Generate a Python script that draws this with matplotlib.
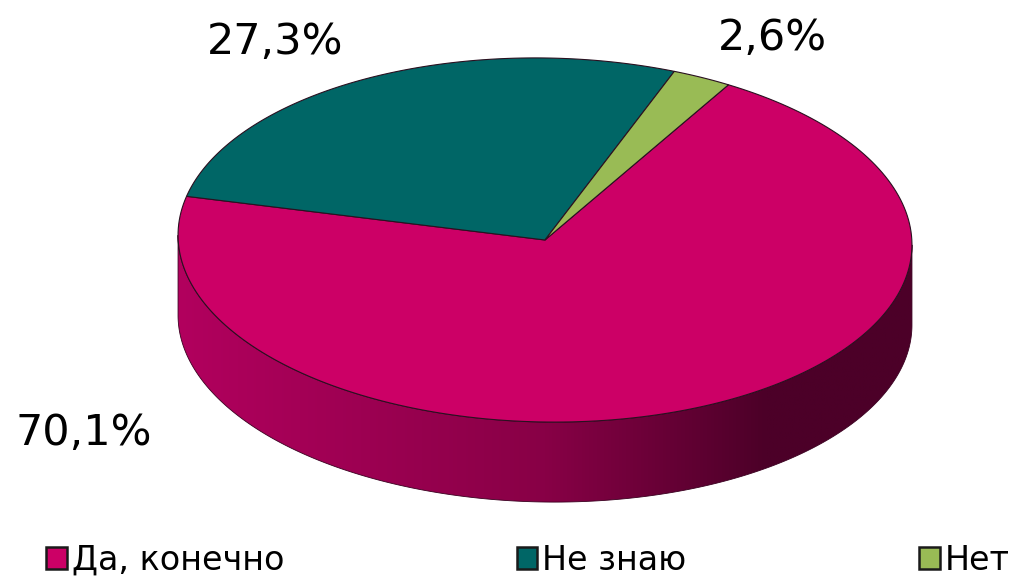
import numpy as np
import matplotlib.pyplot as plt
from matplotlib.patches import Polygon, Patch

labels = ["Да, конечно", "Не знаю", "Нет"]
values = [70.1, 27.3, 2.6]
pct_text = ["70,1%", "27,3%", "2,6%"]
colors = ["#CC0066", "#006666", "#99BB55"]

# geometry of the disc (pixel coords, y down)
cx, cy = 545, 240
a, b = 367, 182
depth = 80
tilt = np.radians(1.0)
start = 60.5  # degrees, slices go clockwise

def pt(t, dy=0.0):
    x = a * np.cos(t)
    y = -b * np.sin(t)
    xr = x * np.cos(tilt) - y * np.sin(tilt)
    yr = x * np.sin(tilt) + y * np.cos(tilt)
    return cx + xr, cy + yr + dy

fig = plt.figure(figsize=(10.15, 5.77), dpi=100)
ax = fig.add_axes([0, 0, 1, 1])

# slice angle ranges (clockwise)
bounds = []
ang = start
for v in values:
    span = v / sum(values) * 360
    bounds.append((ang - span, ang))
    ang -= span

# side wall: the part of the rim that faces the viewer
phi = np.arctan2(-np.cos(tilt) / b, np.sin(tilt) / a)
vis = np.linspace(phi - np.pi / 2, phi + np.pi / 2, 600)
top_edge = [pt(t) for t in vis]
bot_edge = [pt(t, depth) for t in vis[::-1]]
side = Polygon(top_edge + bot_edge, closed=True, facecolor="none",
               edgecolor="#3a0020", linewidth=0.6, zorder=1.5)
ax.add_patch(side)

light = np.array([0xB2, 0x00, 0x5E]) / 255
mid = np.array([0x88, 0x00, 0x46]) / 255
dark = np.array([0x4C, 0x00, 0x28]) / 255
xs = np.linspace(0, 1, 400)
grad = np.zeros((1, len(xs), 3))
for k, f in enumerate(xs):
    if f < 0.5:
        grad[0, k] = light * (1 - f / 0.5) + mid * (f / 0.5)
    else:
        g = min((f - 0.5) / 0.3, 1)
        grad[0, k] = mid * (1 - g) + dark * g
im = ax.imshow(grad, extent=(cx - a - 2, cx + a + 2, cy + b + depth + 10, cy - 30),
               aspect="auto", interpolation="bilinear", zorder=1)
im.set_clip_path(side)

# top face
for i, (t0, t1) in enumerate(bounds):
    tt = np.radians(np.linspace(t0, t1, 200))
    xy = [(cx, cy)] + [pt(t) for t in tt]
    ax.add_patch(Polygon(xy, closed=True, facecolor=colors[i],
                         edgecolor="#2a1020", linewidth=0.8, zorder=2))

# labels
label_pos = [(84, 433), (275, 42), (772, 38)]
for txt, (lx, ly) in zip(pct_text, label_pos):
    ax.text(lx, ly, txt, ha="center", va="center", fontsize=31, color="black")

ax.set_xlim(0, 1015)
ax.set_ylim(577, 0)
ax.axis("off")

handles = [Patch(facecolor=c, edgecolor="#1a1a1a", linewidth=1.8) for c in colors]
leg = fig.legend(handles, labels, loc="center",
                 bbox_to_anchor=(46 / 1015, (577 - 560) / 577, 964 / 1015, 0),
                 mode="expand", ncol=3, frameon=False, fontsize=24,
                 handlelength=0.62, handleheight=0.62, handletextpad=0.15,
                 borderaxespad=0.0, borderpad=0.0)

fig.savefig("out.png", dpi=100)
